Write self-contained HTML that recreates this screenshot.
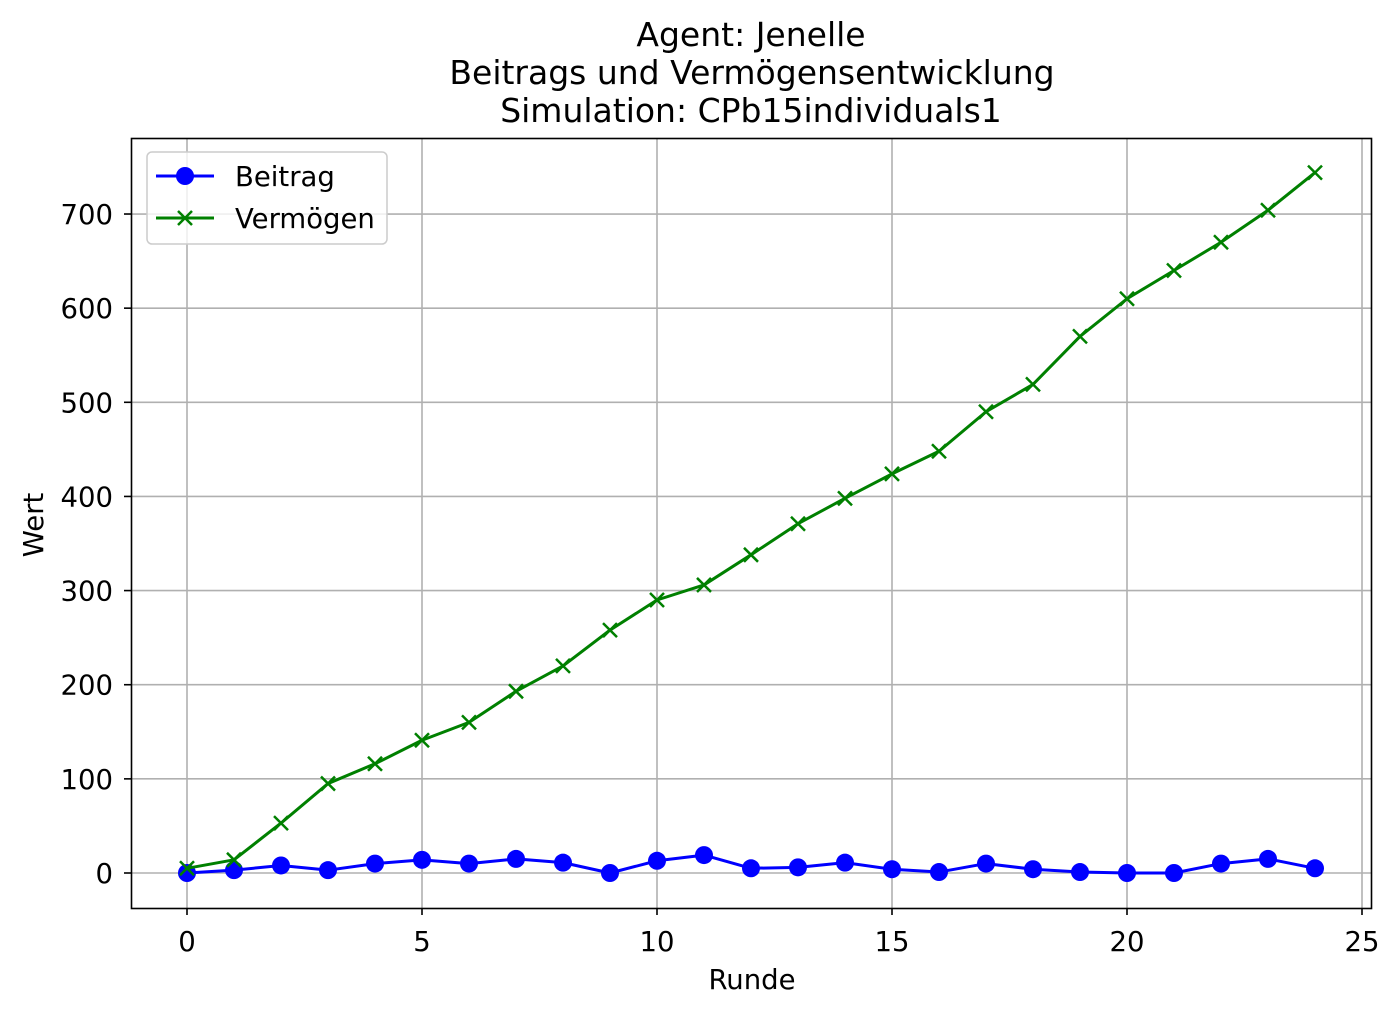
<!DOCTYPE html>
<html><head><meta charset="utf-8"><style>
html,body{margin:0;padding:0;background:#fff;}
svg text{font-family:"DejaVu Sans","Liberation Sans",sans-serif;fill:#000;}
</style></head><body>
<svg id="chart" width="1400" height="1015" xmlns="http://www.w3.org/2000/svg">
<g id="title">
<text x="751" y="46" font-size="33" text-anchor="middle">Agent: Jenelle</text>
<text x="752" y="84" font-size="33" text-anchor="middle">Beitrags und Vermögensentwicklung</text>
<text x="751" y="122" font-size="33" text-anchor="middle">Simulation: CPb15individuals1</text>
</g>
<g id="grid"></g>
<g id="axes"></g>
<g id="series"></g>
<rect x="131.5" y="138.5" width="1240" height="770" fill="none" stroke="#000" stroke-width="1.6"/>
<text x="752" y="989" font-size="27.5" text-anchor="middle">Runde</text>
<text x="0" y="0" font-size="27.5" text-anchor="middle" transform="translate(43,525) rotate(-90)">Wert</text>
<g>
<rect x="147" y="152" width="240" height="92" rx="5" fill="#fff" fill-opacity="0.8" stroke="#ccc" stroke-width="1.5"/>
<g>
<line x1="156" y1="176" x2="214" y2="176" stroke="#0000ff" stroke-width="3"/>
<circle cx="185" cy="176" r="9" fill="#0000ff"/>
<text x="235" y="186" font-size="27.5">Beitrag</text>
</g>
<g>
<line x1="156" y1="218" x2="214" y2="218" stroke="#008000" stroke-width="3"/>
<path d="M178 211 L192 225 M192 211 L178 225" stroke="#008000" stroke-width="2.5"/>
<text x="235" y="228" font-size="27.5">Vermögen</text>
</g>
</g>
</svg>
<script>
const rounds = [0,1,2,3,4,5,6,7,8,9,10,11,12,13,14,15,16,17,18,19,20,21,22,23,24];
const beitrag = [0,3,8,3,10,14,10,15,11,0,13,19,5,6,11,4,1,10,4,1,0,0,10,15,5];
const vermoegen = [5,14,53,95,116,141,160,193,220,258,290,306,338,371,398,424,448,490,519,570,610,640,670,704,744];
const xTicks = [0,5,10,15,20,25];
const yTicks = [0,100,200,300,400,500,600,700];
const NS = "http://www.w3.org/2000/svg";
function xs(v){return 187 + v*47;}
function ys(v){return 873 - v*0.9414;}
function mk(tag, attrs, parent){const e=document.createElementNS(NS,tag);for(const k in attrs)e.setAttribute(k,attrs[k]);parent.appendChild(e);return e;}
const grid=document.getElementById('grid'), axes=document.getElementById('axes'), series=document.getElementById('series');
xTicks.forEach(t=>{
  const g=mk('line',{x1:xs(t),x2:xs(t),y1:138,y2:908,stroke:'#b0b0b0','stroke-width':1.6},grid);
  
  
  const tk=mk('line',{x1:xs(t),x2:xs(t),y1:908,y2:915,stroke:'#000','stroke-width':1.6},axes);
  
  
  const tx=mk('text',{x:xs(t),y:951,'font-size':27.5,'text-anchor':'middle'},axes);
  tx.textContent=t;
  
  
});
yTicks.forEach(t=>{
  const g=mk('line',{x1:131,x2:1371,y1:ys(t),y2:ys(t),stroke:'#b0b0b0','stroke-width':1.6},grid);
  
  
  const tk=mk('line',{x1:124,x2:131,y1:ys(t),y2:ys(t),stroke:'#000','stroke-width':1.6},axes);
  
  
  const tx=mk('text',{x:113,y:ys(t)+10,'font-size':27.5,'text-anchor':'end'},axes);
  tx.textContent=t;
  
  
});
function pts(arr){return arr.map((v,i)=>xs(rounds[i])+','+ys(v)).join(' ');}
const lb=mk('polyline',{points:pts(beitrag),fill:'none',stroke:'#0000ff','stroke-width':3,'stroke-linejoin':'round'},series);


beitrag.forEach((v,i)=>{
  const c=mk('circle',{cx:xs(rounds[i]),cy:ys(v),r:9,fill:'#0000ff'},series);
  
  
});
const lv=mk('polyline',{points:pts(vermoegen),fill:'none',stroke:'#008000','stroke-width':3,'stroke-linejoin':'round'},series);


vermoegen.forEach((v,i)=>{
  const x=xs(rounds[i]), y=ys(v);
  const p=mk('path',{d:`M${x-7} ${y-7} L${x+7} ${y+7} M${x+7} ${y-7} L${x-7} ${y+7}`,stroke:'#008000','stroke-width':2.5},series);
  
  
});
</script>
</body></html>
